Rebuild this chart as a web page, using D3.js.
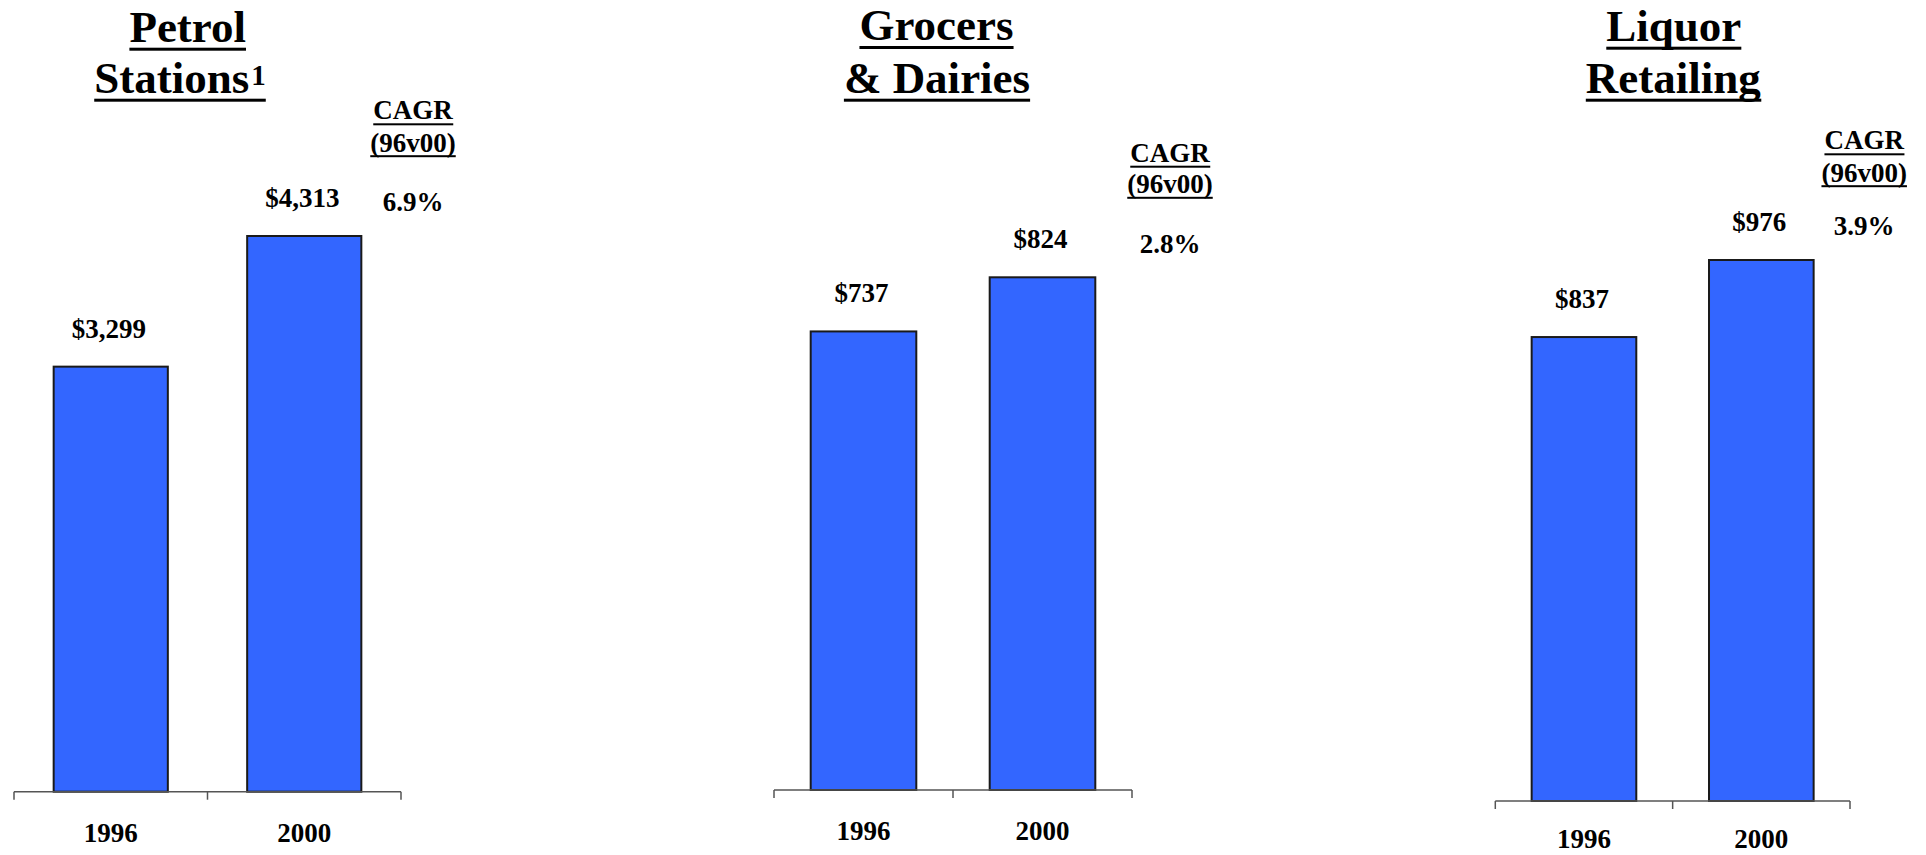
<!DOCTYPE html>
<html>
<head>
<meta charset="utf-8">
<script src="https://cdn.jsdelivr.net/npm/d3@7"></script>
<style>
  html, body { margin: 0; padding: 0; background: #fff; }
  svg { display: block; }
  text { font-family: "Liberation Serif", "Times New Roman", serif; font-weight: bold; fill: #000; }
</style>
</head>
<body>
<svg id="chart" width="1926" height="855"></svg>
<script>
// ---- Data ----
const categories = ["1996", "2000"];
const petrolValues = [3299, 4313];
const grocerValues = [737, 824];
const liquorValues = [837, 976];
const titleLines = [["Petrol", "Stations"], ["Grocers", "& Dairies"], ["Liquor", "Retailing"]];
const titleSuperscripts = ["1", "", ""];
const cagrHeader = ["CAGR", "(96v00)"];
const cagrValues = ["6.9%", "2.8%", "3.9%"];
const seriesValues = [petrolValues, grocerValues, liquorValues];

// ---- Layout (positions only) ----
const layout = [
  { x0: 14, x1: 401, axisY: 791.7, maxY: 236, titleX: [187.7, 180], titleY: [41.7, 92.7], cagrX: 413, cagrY: [119.3, 151.7, 210.7] },
  { x0: 774, x1: 1132, axisY: 790, maxY: 277.3, titleX: [936.5, 937], titleY: [40, 92.7], cagrX: 1170, cagrY: [161.7, 193.3, 253.3] },
  { x0: 1495.3, x1: 1850, axisY: 801, maxY: 260, titleX: [1673.8, 1673.3], titleY: [40.7, 92.7], cagrX: 1864.2, cagrY: [149.3, 181.7, 235] }
];

const svg = d3.select("#chart");
const barColor = "#3366FF";

function underline(g, textSel, offset, thickness) {
  const bb = textSel.node().getBBox();
  const y = +textSel.attr("y");
  g.append("rect")
    .attr("x", bb.x)
    .attr("y", y + offset)
    .attr("width", bb.width)
    .attr("height", thickness)
    .attr("fill", "#000");
}

seriesValues.forEach((values, p) => {
  const L = layout[p];
  const g = svg.append("g");

  const x = d3.scaleBand()
    .domain(categories)
    .range([L.x0, L.x1])
    .paddingInner(0.41)
    .paddingOuter(0.205);

  const y = d3.scaleLinear()
    .domain([0, d3.max(values)])
    .range([L.axisY, L.maxY]);

  // bars
  g.selectAll("rect.bar")
    .data(values)
    .join("rect")
    .attr("class", "bar")
    .attr("x", (d, i) => x(categories[i]))
    .attr("y", d => y(d))
    .attr("width", x.bandwidth())
    .attr("height", d => y(0) - y(d))
    .attr("fill", barColor)
    .attr("stroke", "#1a1a1a")
    .attr("stroke-width", 2);

  // axis line with ticks at band boundaries
  const step = x.step();
  const tickXs = d3.range(categories.length + 1).map(i => L.x0 + i * step);
  g.append("line")
    .attr("x1", L.x0).attr("x2", L.x1)
    .attr("y1", y(0)).attr("y2", y(0))
    .attr("stroke", "#555").attr("stroke-width", 1.5);
  g.selectAll("line.tick")
    .data(tickXs)
    .join("line")
    .attr("class", "tick")
    .attr("x1", d => d).attr("x2", d => d)
    .attr("y1", y(0)).attr("y2", y(0) + 8)
    .attr("stroke", "#555").attr("stroke-width", 1.5);

  // category labels
  g.selectAll("text.cat")
    .data(categories)
    .join("text")
    .attr("class", "cat")
    .attr("x", d => x(d) + x.bandwidth() / 2)
    .attr("y", Math.min(y(0) + 50, 848))
    .attr("text-anchor", "middle")
    .attr("font-size", 27)
    .text(d => d);

  // value labels
  g.selectAll("text.val")
    .data(values)
    .join("text")
    .attr("class", "val")
    .attr("x", (d, i) => x(categories[i]) + x.bandwidth() / 2 - 2)
    .attr("y", d => y(d) - 29)
    .attr("text-anchor", "middle")
    .attr("font-size", 27)
    .text(d => "$" + d3.format(",")(d));

  // title
  titleLines[p].forEach((line, li) => {
    const t = g.append("text")
      .attr("x", L.titleX[li])
      .attr("y", L.titleY[li])
      .attr("text-anchor", "middle")
      .attr("font-size", 45);
    t.append("tspan").text(line);
    if (li === 1 && titleSuperscripts[p]) {
      t.append("tspan")
        .attr("font-size", 29)
        .attr("dx", 2)
        .attr("dy", -8)
        .text(titleSuperscripts[p]);
    }
    underline(g, t, 6, 3);
  });

  // CAGR header and value
  cagrHeader.forEach((h, hi) => {
    const t = g.append("text")
      .attr("x", L.cagrX)
      .attr("y", L.cagrY[hi])
      .attr("text-anchor", "middle")
      .attr("font-size", 27)
      .text(h);
    underline(g, t, hi === 0 ? 4 : 3.5, 2);
  });
  g.append("text")
    .attr("x", L.cagrX)
    .attr("y", L.cagrY[2])
    .attr("text-anchor", "middle")
    .attr("font-size", 27)
    .text(cagrValues[p]);
});
</script>
</body>
</html>
